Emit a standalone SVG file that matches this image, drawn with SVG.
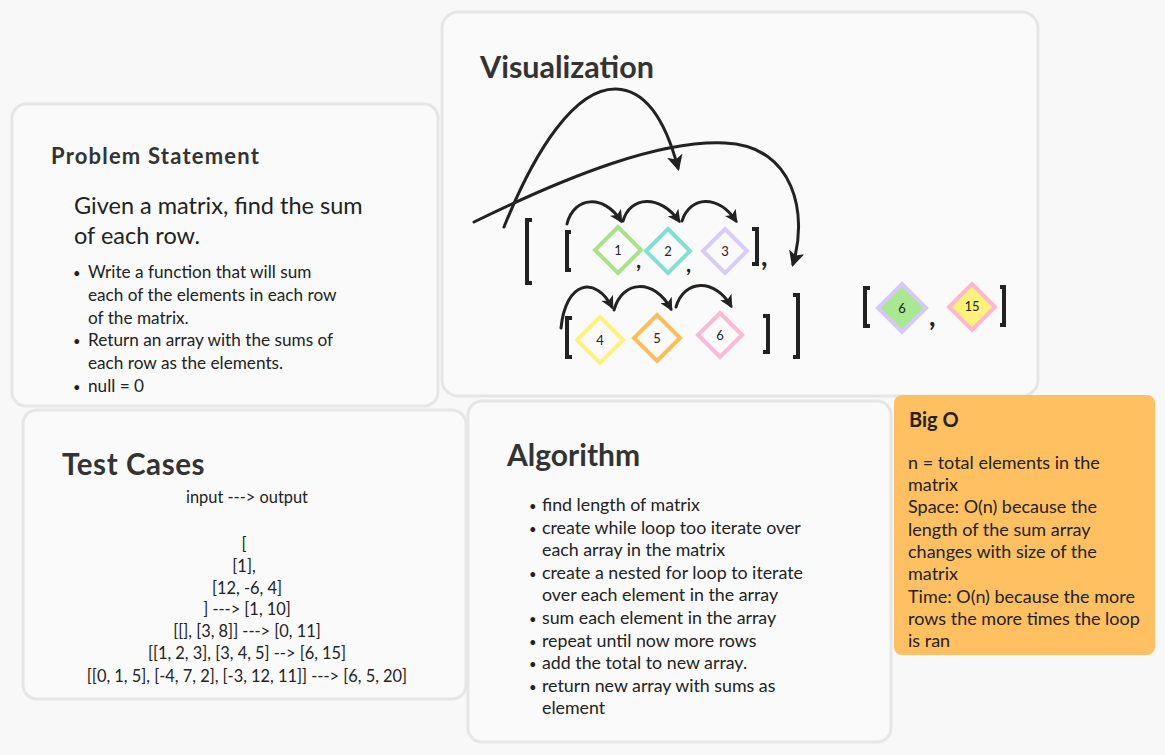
<svg xmlns="http://www.w3.org/2000/svg" width="1165" height="755" viewBox="0 0 1165 755">
<defs>
<marker id="ah" viewBox="0 0 10 10" refX="8" refY="5" markerWidth="13" markerHeight="13" markerUnits="userSpaceOnUse" orient="auto">
<path d="M0,0 L10,5 L0,10 L2.5,5 z" fill="#222"/>
</marker>
<marker id="ahb" viewBox="0 0 10 10" refX="8" refY="5" markerWidth="16" markerHeight="16" markerUnits="userSpaceOnUse" orient="auto">
<path d="M0,0 L10,5 L0,10 L2.5,5 z" fill="#222"/>
</marker>
</defs>
<style>
.card{fill:#fafafa;stroke:#e6e6e6;stroke-width:3}
.t{font-family:Lato,"Liberation Sans",sans-serif;fill:#333;font-weight:bold}
.b{font-family:Lato,"Liberation Sans",sans-serif;fill:#222}
.bu{font-family:Lato,"Liberation Sans",sans-serif;fill:#222;font-size:13px}
.br{fill:none;stroke:#222;stroke-width:4}
.arc{fill:none;stroke:#222;stroke-width:3;stroke-linecap:round}
.dm{stroke-width:4}
.n{font-family:Lato,"Liberation Sans",sans-serif;fill:#222;font-size:13px;text-anchor:middle}
.cm{font-family:Lato,"Liberation Sans",sans-serif;fill:#222;font-weight:bold}
</style>
<rect width="1165" height="755" fill="#f8f8f8"/>

<g id="problem">
<rect class="card" x="12" y="104" width="426" height="302" rx="14"/>
<text class="t" x="51" y="164" font-size="22" letter-spacing="1.2">Problem Statement</text>
<text class="b" x="74" y="214" font-size="23.5">Given a matrix, find the sum</text>
<text class="b" x="74" y="244" font-size="23.5">of each row.</text>
<g class="b" font-size="17.2">
<text class="bu" x="73" y="278">•</text><text x="88" y="278">Write a function that will sum</text>
<text x="88" y="301">each of the elements in each row</text>
<text x="88" y="324">of the matrix.</text>
<text class="bu" x="73" y="346">•</text><text x="88" y="346">Return an array with the sums of</text>
<text x="88" y="369">each row as the elements.</text>
<text class="bu" x="73" y="392">•</text><text x="88" y="392">null = 0</text>
</g>
</g>

<g id="visualization">
<rect class="card" x="442" y="12" width="596" height="384" rx="16"/>
<text class="t" x="480" y="78" font-size="30.5">Visualization</text>
</g>

<g id="testcases">
<rect class="card" x="23" y="410" width="443" height="289" rx="14"/>
<text class="t" x="62" y="475" font-size="29.5" letter-spacing="0.6">Test Cases</text>
<g class="b" font-size="16.4" text-anchor="middle">
<text x="247" y="503">input ---&gt; output</text>
<text x="244" y="550">[</text>
<text x="244" y="572">[1],</text>
<text x="247" y="594">[12, -6, 4]</text>
<text x="247" y="615">] ---&gt; [1, 10]</text>
<text x="247" y="637">[[], [3, 8]] ---&gt; [0, 11]</text>
<text x="247" y="659">[[1, 2, 3], [3, 4, 5] --&gt; [6, 15]</text>
<text x="247" y="682">[[0, 1, 5], [-4, 7, 2], [-3, 12, 11]] ---&gt; [6, 5, 20]</text>
</g>
</g>

<g id="algorithm">
<rect class="card" x="468" y="401" width="423" height="341" rx="14"/>
<text class="t" x="507" y="466" font-size="30">Algorithm</text>
<g class="b" font-size="17.8">
<text class="bu" x="529" y="511">•</text><text x="542" y="511">find length of matrix</text>
<text class="bu" x="529" y="534">•</text><text x="542" y="534">create while loop too iterate over</text>
<text x="542" y="556">each array in the matrix</text>
<text class="bu" x="529" y="579">•</text><text x="542" y="579">create a nested for loop to iterate</text>
<text x="542" y="601">over each element in the array</text>
<text class="bu" x="529" y="624">•</text><text x="542" y="624">sum each element in the array</text>
<text class="bu" x="529" y="647">•</text><text x="542" y="647">repeat until now more rows</text>
<text class="bu" x="529" y="669">•</text><text x="542" y="669">add the total to new array.</text>
<text class="bu" x="529" y="692">•</text><text x="542" y="692">return new array with sums as</text>
<text x="542" y="714">element</text>
</g>
</g>

<g id="bigo">
<rect x="894" y="395" width="261" height="260" rx="8" fill="#ffc061"/>
<text class="b" x="909" y="427" font-size="20" font-weight="bold" fill="#111">Big O</text>
<g class="b" font-size="18">
<text x="908" y="469">n = total elements in the</text>
<text x="908" y="491">matrix</text>
<text x="908" y="513">Space: O(n) because the</text>
<text x="908" y="536">length of the sum array</text>
<text x="908" y="558">changes with size of the</text>
<text x="908" y="580">matrix</text>
<text x="908" y="603">Time: O(n) because the more</text>
<text x="908" y="625">rows the more times the loop</text>
<text x="908" y="647">is ran</text>
</g>
</g>

<g id="matrix">
<path class="br" d="M532,220 H527 V283 H532"/>
<path class="br" d="M571,232 H567 V270 H571"/>
<path class="br" d="M752,229 H757 V264 H752"/>
<path class="br" d="M572,318 H567 V357 H572"/>
<path class="br" d="M763,316 H768 V352 H763"/>
<path class="br" d="M793,295 H798 V357 H793"/>
<polygon class="dm" points="618,227 641,250 618,273 595,250" fill="none" stroke="#a8e28a"/>
<text class="n" x="618" y="255">1</text>
<polygon class="dm" points="668,229 690,251 668,273 646,251" fill="none" stroke="#80e0d4"/>
<text class="n" x="668" y="256">2</text>
<polygon class="dm" points="725,229 747,251 725,273 703,251" fill="none" stroke="#d9cbfb"/>
<text class="n" x="725" y="256">3</text>
<polygon class="dm" points="600,317 623,340 600,363 577,340" fill="none" stroke="#fff27a"/>
<text class="n" x="600" y="345">4</text>
<polygon class="dm" points="657,315 680,338 657,361 634,338" fill="none" stroke="#ffbd5a"/>
<text class="n" x="657" y="343">5</text>
<polygon class="dm" points="720,313 742,335 720,357 698,335" fill="none" stroke="#ffb8d6"/>
<text class="n" x="720" y="340">6</text>
<text class="cm" x="636" y="268" font-size="22">,</text>
<text class="cm" x="686" y="272" font-size="22">,</text>
<text class="cm" x="761" y="266" font-size="28">,</text>
</g>

<g id="result">
<path class="br" d="M870,288 H865 V326 H870"/>
<path class="br" d="M1000,287 H1004 V325 H1000"/>
<polygon class="dm" points="902,284 926,308 902,332 878,308" fill="#a8e890" stroke="#d8c8f8"/>
<text class="n" x="902" y="313">6</text>
<polygon class="dm" points="972,284 995,307 972,330 949,307" fill="#fff27a" stroke="#ffb8d0"/>
<text class="n" x="972" y="311" font-size="10">15</text>
<text class="cm" x="929" y="326" font-size="28">,</text>
</g>

<g id="connectors">
<path class="arc" d="M567,224 C574,196 604,194 621,221" marker-end="url(#ah)"/>
<path class="arc" d="M623,221 C630,196 660,194 679,221" marker-end="url(#ah)"/>
<path class="arc" d="M682,221 C690,196 718,194 736,221" marker-end="url(#ah)"/>
<path class="arc" d="M561,328 C566,280 596,276 612,307" marker-end="url(#ah)"/>
<path class="arc" d="M614,310 C622,280 654,278 671,309" marker-end="url(#ah)"/>
<path class="arc" d="M676,307 C684,279 715,278 731,306" marker-end="url(#ah)"/>
<path class="arc" d="M504,227 C535,150 575,88 616,89 C650,90 668,130 678,168" marker-end="url(#ahb)"/>
<path class="arc" d="M474,222 C570,175 660,140 725,143 C795,146 808,215 793,264" marker-end="url(#ahb)"/>
</g>
</svg>
